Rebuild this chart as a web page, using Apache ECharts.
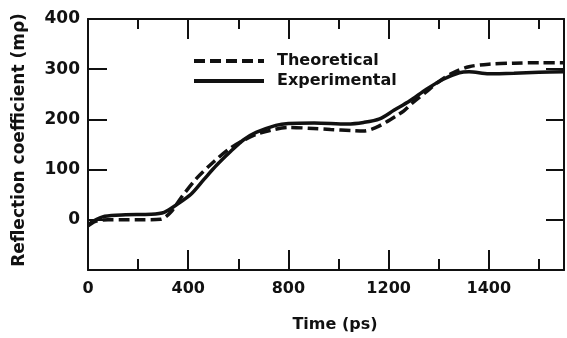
<!DOCTYPE html>
<html>
<head>
<meta charset="utf-8">
<script src="https://cdn.jsdelivr.net/npm/echarts@6/dist/echarts.min.js"></script>
<style>
  html, body { margin: 0; padding: 0; background: #fff; }
  #chart { width: 567px; height: 338px; }
</style>
</head>
<body>
<div id="chart"></div>
<script>
// tick labels (the original plot labels the 1600 position as "1400")
const xTickValues = [0, 400, 800, 1200, 1600];
const xTickLabels = ["0", "400", "800", "1200", "1400"];
const yTickValues = [0, 100, 200, 300, 400];

// [time (ps), reflection coefficient (m rho)]
const theoretical = [
  [0, -12], [30, -3], [80, 0], [150, 0], [200, 0], [290, 1], [330, 15],
  [373, 45], [436, 84], [503, 116], [560, 140], [608, 155], [670, 170],
  [726, 178], [800, 184], [900, 182], [968, 180], [1050, 178], [1100, 177],
  [1150, 184], [1191, 195], [1230, 207], [1261, 217], [1300, 235],
  [1350, 255], [1400, 275], [1457, 293], [1521, 305], [1600, 310],
  [1700, 312], [1800, 313], [1900, 313]
];
const experimental = [
  [0, -11], [20, -3], [67, 7], [150, 10], [252, 11], [304, 15], [356, 31],
  [411, 51], [462, 80], [514, 109], [569, 136], [620, 159], [671, 174],
  [750, 188], [800, 192], [903, 193], [1034, 191], [1100, 194], [1164, 201],
  [1221, 218], [1285, 237], [1351, 260], [1418, 280], [1482, 293],
  [1521, 295], [1600, 291], [1700, 292], [1800, 294], [1900, 295]
];

const ink = "#111";
const font = "DejaVu Sans";

const chart = echarts.init(document.getElementById("chart"));

const xBase = {
  type: "value",
  min: 0,
  max: 1900,
  interval: 400,
  axisLine: { show: true, onZero: false, lineStyle: { color: ink, width: 2 } },
  splitLine: { show: false },
  axisTick: { show: true, inside: true, length: 20, lineStyle: { color: ink, width: 2 } },
  minorTick: { show: true, splitNumber: 2, length: 11, lineStyle: { color: ink, width: 2 } },
};

const yBase = {
  type: "value",
  min: -100,
  max: 400,
  interval: 100,
  axisLine: { show: true, onZero: false, lineStyle: { color: ink, width: 2 } },
  splitLine: { show: false },
  axisTick: { show: true, inside: true, length: 19, lineStyle: { color: ink, width: 2 } },
};

chart.setOption({
  animation: false,
  backgroundColor: "#fff",
  grid: { left: 88, top: 19, width: 482, height: 255, containLabel: false },
  legend: {
    orient: "vertical",
    left: 192,
    top: 53,
    padding: 0,
    itemWidth: 70,
    itemHeight: 14,
    itemGap: 4,
    itemStyle: { opacity: 0 },
    lineStyle: { width: 4 },
    textStyle: { color: ink, fontFamily: font, fontWeight: "bold", fontSize: 16, padding: [0, 0, 0, 8] },
    data: ["Theoretical", "Experimental"],
  },
  xAxis: [
    {
      ...xBase,
      position: "bottom",
      name: "Time (ps)",
      nameLocation: "middle",
      nameGap: 47,
      nameTextStyle: { color: ink, fontFamily: font, fontWeight: "bold", fontSize: 16, padding: [0, 0, 0, 18] },
      axisLabel: {
        color: ink,
        fontFamily: font,
        fontWeight: "bold",
        fontSize: 16,
        margin: 11,
        formatter: v => {
          const i = xTickValues.indexOf(v);
          return i >= 0 ? xTickLabels[i] : "";
        },
      },
    },
    {
      ...xBase,
      position: "top",
      axisLabel: { show: false },
      minorTick: { ...xBase.minorTick, length: 10 },
    },
  ],
  yAxis: [
    {
      ...yBase,
      position: "left",
      name: "Reflection coefficient (m\u03c1)",
      nameLocation: "middle",
      nameRotate: 90,
      nameGap: 60,
      nameTextStyle: { color: ink, fontFamily: font, fontWeight: "bold", fontSize: 17, padding: [0, 0, 0, 9] },
      axisLabel: {
        color: ink,
        fontFamily: font,
        fontWeight: "bold",
        fontSize: 17,
        margin: 8,
        formatter: v => (yTickValues.indexOf(v) >= 0 ? String(v) : ""),
      },
    },
    {
      ...yBase,
      position: "right",
      axisLabel: { show: false },
      axisTick: { ...yBase.axisTick, length: 18 },
    },
  ],
  series: [
    {
      name: "Theoretical",
      type: "line",
      data: theoretical,
      smooth: 0.3,
      symbol: "none",
      lineStyle: { color: ink, width: 3.5, type: [11, 5] },
      itemStyle: { color: ink },
    },
    {
      name: "Experimental",
      type: "line",
      data: experimental,
      smooth: 0.3,
      symbol: "none",
      lineStyle: { color: ink, width: 3.5, type: "solid" },
      itemStyle: { color: ink },
    },
  ],
});
</script>
</body>
</html>
